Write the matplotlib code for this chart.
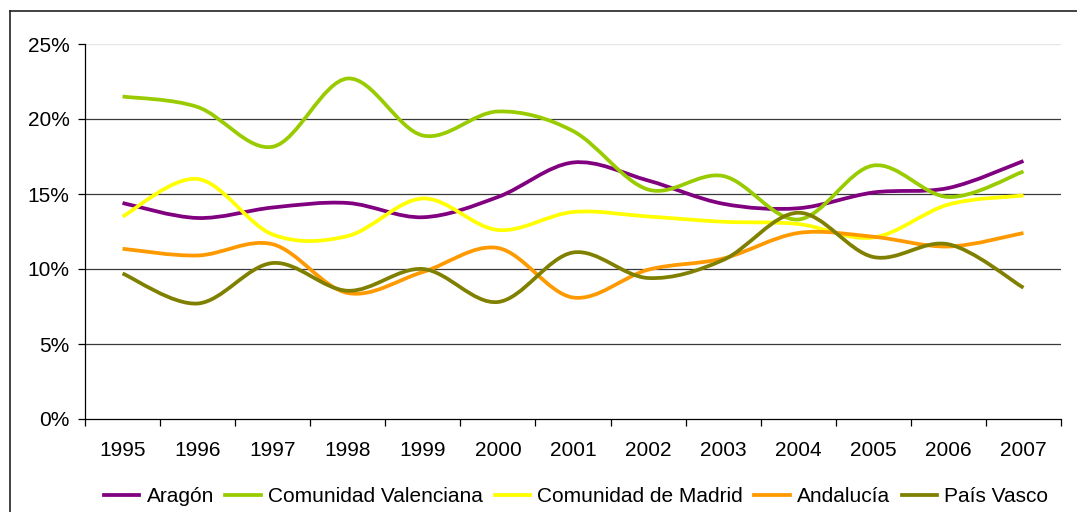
import numpy as np
import matplotlib
matplotlib.use("Agg")
import matplotlib.pyplot as plt
from matplotlib.path import Path
from matplotlib.patches import PathPatch
from matplotlib.lines import Line2D
from matplotlib.ticker import FixedLocator, FuncFormatter

plt.rcParams['font.family'] = ['Liberation Sans', 'DejaVu Sans']

years = ['1995', '1996', '1997', '1998', '1999', '2000', '2001',
         '2002', '2003', '2004', '2005', '2006', '2007']

aragon = [14.4, 13.4, 14.1, 14.4, 13.45, 14.8, 17.1, 15.9, 14.35, 14.05, 15.1, 15.4, 17.2]
valenciana = [21.5, 20.8, 18.15, 22.7, 18.9, 20.5, 19.2, 15.3, 16.2, 13.3, 16.9, 14.8, 16.5]
madrid = [13.5, 16.0, 12.3, 12.2, 14.7, 12.6, 13.8, 13.5, 13.15, 13.0, 12.1, 14.3, 14.9]
andalucia = [11.35, 10.9, 11.65, 8.4, 9.8, 11.4, 8.1, 9.95, 10.7, 12.4, 12.15, 11.5, 12.4]
pais_vasco = [9.7, 7.7, 10.4, 8.55, 10.0, 7.8, 11.1, 9.4, 10.6, 13.75, 10.8, 11.65, 8.75]

series = [
    ('Aragón', aragon, '#800080'),
    ('Comunidad Valenciana', valenciana, '#99CC00'),
    ('Comunidad de Madrid', madrid, '#FFFF00'),
    ('Andalucía', andalucia, '#FF9900'),
    ('País Vasco', pais_vasco, '#808000'),
]


def smooth_path(x, y):
    # excel-like smoothed line: bezier through each point
    pts = np.column_stack([x, y]).astype(float)
    p = np.vstack([pts[0], pts, pts[-1]])
    verts = [pts[0]]
    codes = [Path.MOVETO]
    for i in range(1, len(p) - 2):
        c1 = p[i] + (p[i + 1] - p[i - 1]) / 6.0
        c2 = p[i + 1] - (p[i + 2] - p[i]) / 6.0
        verts += [c1, c2, p[i + 1]]
        codes += [Path.CURVE4] * 3
    return Path(verts, codes)


fig = plt.figure(figsize=(10.77, 5.12), dpi=100)
ax = fig.add_axes([85 / 1077, 1 - 419 / 512, (1061 - 85) / 1077, (419 - 44) / 512])

x = np.arange(len(years))
handles = []
for name, vals, col in series:
    patch = PathPatch(smooth_path(x, np.array(vals) / 100.0), facecolor='none',
                      edgecolor=col, lw=2.7, capstyle='butt', zorder=3)
    ax.add_patch(patch)
    handles.append(Line2D([], [], color=col, lw=2.7, label=name))

ax.set_xlim(-0.5, len(years) - 0.5)
ax.set_ylim(0, 0.25)

for v in [0.05, 0.10, 0.15, 0.20]:
    ax.axhline(v, color='#3a3a3a', lw=0.9, zorder=1)
ax.axhline(0.25, color='#e4e4e4', lw=0.9, zorder=1)

ax.set_yticks([0, 0.05, 0.10, 0.15, 0.20, 0.25])
ax.yaxis.set_major_formatter(FuncFormatter(lambda v, p: f'{v * 100:.0f}%'))
ax.tick_params(axis='y', length=5, width=0.9, pad=6, labelsize=15, color='black')

ax.xaxis.set_major_locator(FixedLocator(np.arange(-0.5, len(years), 1.0)))
ax.xaxis.set_minor_locator(FixedLocator(x))
ax.set_xticklabels([''] * len(ax.get_xticks()))
ax.set_xticks(x, years, minor=True)
ax.tick_params(axis='x', which='major', length=5, width=0.9, color='black')
ax.tick_params(axis='x', which='minor', length=0, pad=16, labelsize=15)

for s in ['top', 'right']:
    ax.spines[s].set_visible(False)
ax.spines['left'].set_linewidth(0.9)
ax.spines['bottom'].set_linewidth(0.9)

fig.legend(handles=handles, loc='center', bbox_to_anchor=(0.535, 1 - 497 / 512),
           ncol=5, frameon=False, fontsize=15, handlelength=1.7,
           handletextpad=0.35, columnspacing=0.55, borderaxespad=0)

# outer chart border (cut off on the right and bottom)
fig.add_artist(Line2D([10 / 1077, 1.0], [1 - 11 / 512] * 2, color='#222222', lw=1.2))
fig.add_artist(Line2D([10 / 1077] * 2, [0.0, 1 - 11 / 512], color='#222222', lw=1.2))

fig.savefig('out.png', dpi=100)
